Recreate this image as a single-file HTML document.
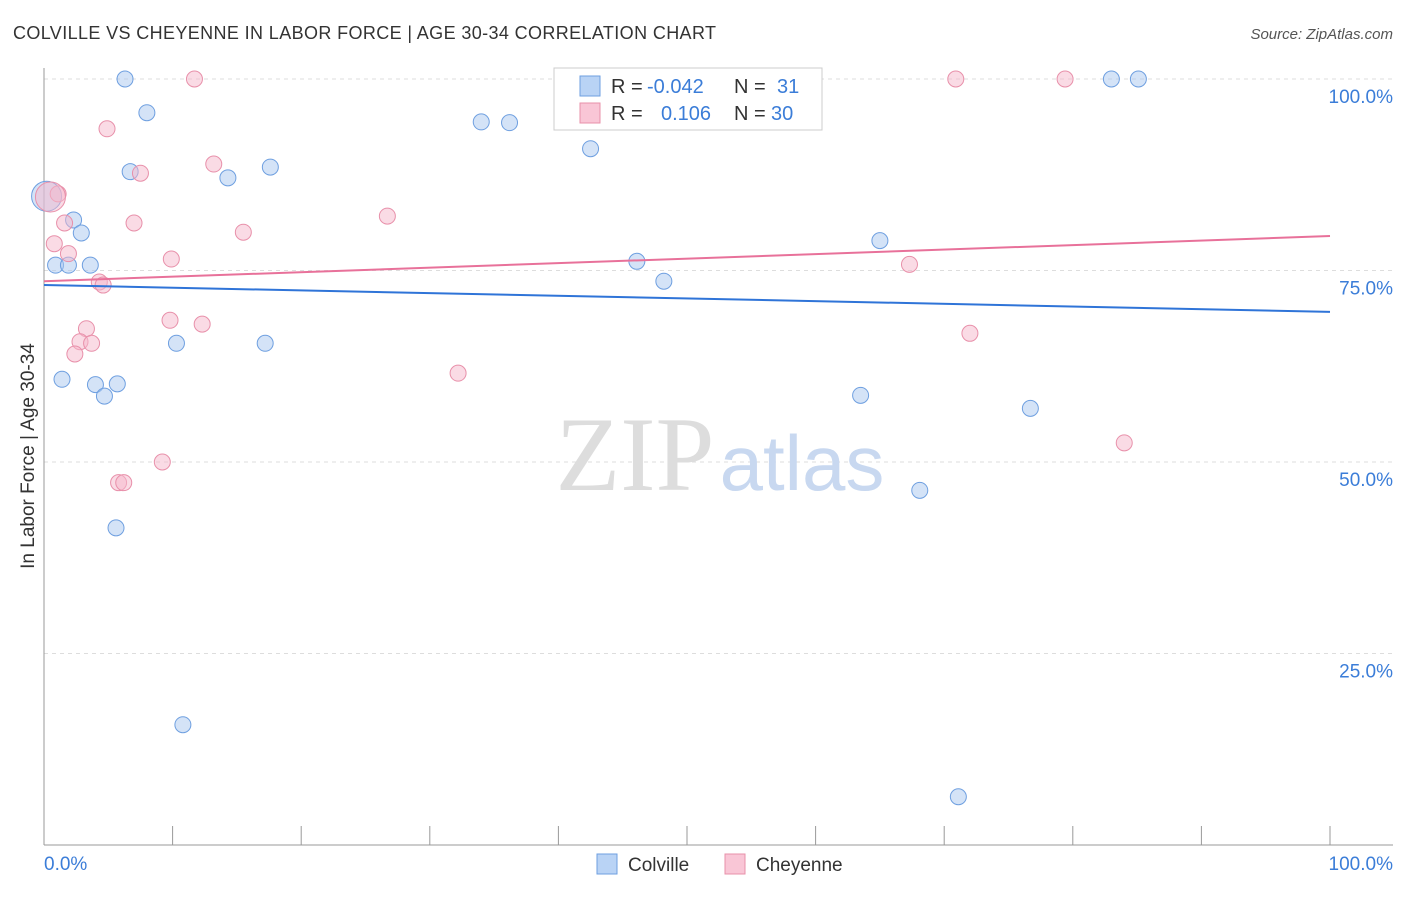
<!DOCTYPE html>
<html><head><meta charset="utf-8">
<style>
body{margin:0;background:#fff;font-family:"Liberation Sans",sans-serif;}
</style></head>
<body>
<svg id="chart" width="1406" height="892" viewBox="0 0 1406 892" xmlns="http://www.w3.org/2000/svg">
<text x="13" y="39" font-size="18" fill="#333" textLength="703">COLVILLE VS CHEYENNE IN LABOR FORCE | AGE 30-34 CORRELATION CHART</text>
<text x="1393" y="39" font-size="15" fill="#555" text-anchor="end" font-style="italic">Source: ZipAtlas.com</text>
<g id="grid"></g>
<text x="635" y="490" font-size="106" fill="#ddd" font-family="Liberation Serif,serif" text-anchor="middle">ZIP</text>
<text x="802" y="490" font-size="78" fill="#c8d8f0" text-anchor="middle">atlas</text>
<g id="marks"></g>
<text x="34" y="456" font-size="19" fill="#333" text-anchor="middle" transform="rotate(-90 34 456)">In Labor Force | Age 30-34</text>
<text x="44" y="870" font-size="19" fill="#3b7dd8">0.0%</text>
<text x="1393" y="870" font-size="19" fill="#3b7dd8" text-anchor="end">100.0%</text>
<g>
<rect x="554" y="68" width="268" height="62" fill="#fff" stroke="#ccc"/>
<rect x="580" y="76" width="20" height="20" fill="#b9d3f5" stroke="#6e9fe0"/>
<rect x="580" y="103" width="20" height="20" fill="#f9c6d6" stroke="#e890aa"/>
<text x="611" y="93" font-size="20" fill="#333">R = <tspan x="647" fill="#3b7dd8">-0.042</tspan><tspan x="734">N = </tspan><tspan x="777" fill="#3b7dd8">31</tspan></text>
<text x="611" y="120" font-size="20" fill="#333">R = <tspan x="661" fill="#3b7dd8">0.106</tspan><tspan x="734">N = </tspan><tspan x="771" fill="#3b7dd8">30</tspan></text>
</g>
<g>
<rect x="597" y="854" width="20" height="20" fill="#b9d3f5" stroke="#6e9fe0"/>
<text x="628" y="871" font-size="19" fill="#333">Colville</text>
<rect x="725" y="854" width="20" height="20" fill="#f9c6d6" stroke="#e890aa"/>
<text x="756" y="871" font-size="19" fill="#333">Cheyenne</text>
</g>
</svg>
<script>
const yTicks=[25,50,75,100];
const yTickLabels=["25.0%","50.0%","75.0%","100.0%"];
const xTicks=[0,10,20,30,40,50,60,70,80,90,100];
const colvilleX=[6.3,8.0,6.7,14.3,17.6,34.0,36.2,42.5,0.2,2.3,2.9,0.9,1.9,3.6,46.1,48.2,65.0,83.0,85.1,10.3,17.2,1.4,4.0,5.7,4.7,63.5,76.7,68.1,5.6,10.8,71.1];
const colvilleY=[100,95.6,87.9,87.1,88.5,94.4,94.3,90.9,84.7,81.6,79.9,75.7,75.7,75.7,76.2,73.6,78.9,100,100,65.5,65.5,60.8,60.1,60.2,58.6,58.7,57.0,46.3,41.4,15.7,6.3];
const cheyenneX=[11.7,70.9,79.4,4.9,13.2,7.5,1.1,0.5,7.0,1.6,26.7,15.5,0.8,1.9,9.9,4.3,4.6,67.3,9.8,12.3,3.3,2.8,3.7,2.4,72.0,32.2,9.2,5.8,6.2,84.0];
const cheyenneY=[100,100,100,93.5,88.9,87.7,85.0,84.6,81.2,81.2,82.1,80.0,78.5,77.2,76.5,73.5,73.1,75.8,68.5,68.0,67.4,65.7,65.5,64.1,66.8,61.6,50.0,47.3,47.3,52.5];
const colvilleTrend=[73.1,69.6];
const cheyenneTrend=[73.6,79.5];
const NS="http://www.w3.org/2000/svg";
const xs=v=>44+v*12.86;
const ys=v=>845-v*7.66;
function mk(tag,attrs,parent){const e=document.createElementNS(NS,tag);for(const k in attrs)e.setAttribute(k,attrs[k]);parent.appendChild(e);return e;}
const grid=document.getElementById('grid');
const marks=document.getElementById('marks');
yTicks.forEach((t,i)=>{
 const l=mk('line',{x1:44,x2:1393,y1:ys(t),y2:ys(t),stroke:'#ddd','stroke-dasharray':'4,4'},grid);
 
 
 const tx=mk('text',{x:1393,y:ys(t)+24,'font-size':19,fill:'#3b7dd8','text-anchor':'end'},grid);
 tx.textContent=yTickLabels[i];
 
 
});
const ax=mk('line',{x1:44,x2:1393,y1:845,y2:845,stroke:'#999'},grid);


const ay=mk('line',{x1:44,x2:44,y1:68,y2:845,stroke:'#999'},grid);


xTicks.forEach(t=>{
 const l=mk('line',{x1:xs(t),x2:xs(t),y1:826,y2:845,stroke:'#999'},grid);
 
 
});
function pts(X,Y,fill,stroke,name){
 X.forEach((x,i)=>{
  const big=(x<0.6&&Y[i]>84);
  const c=mk('circle',{cx:xs(x),cy:ys(Y[i]),r:big?15:8,fill:fill,'fill-opacity':0.5,stroke:stroke,'stroke-width':1},marks);
  
  
 });
}
pts(colvilleX,colvilleY,'#a9c8f0','#6e9fe0','colville-point');
pts(cheyenneX,cheyenneY,'#f5b8cc','#e890aa','cheyenne-point');
const tb=mk('line',{x1:xs(0),x2:xs(100),y1:ys(colvilleTrend[0]),y2:ys(colvilleTrend[1]),stroke:'#2f74d8','stroke-width':2},marks);


const tp=mk('line',{x1:xs(0),x2:xs(100),y1:ys(cheyenneTrend[0]),y2:ys(cheyenneTrend[1]),stroke:'#e8719a','stroke-width':2},marks);


</script>
</body></html>
